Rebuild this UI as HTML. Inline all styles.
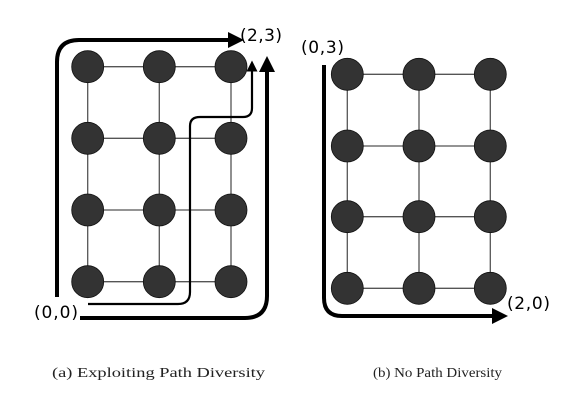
<!DOCTYPE html>
<html><head><meta charset="utf-8"><style>
html,body{margin:0;padding:0;background:#fff;}
svg{display:block;}
</style></head><body>
<svg width="574" height="401" viewBox="0 0 574 401">
<defs>
<marker id="ah" markerWidth="4" markerHeight="4" refX="2" refY="2" orient="auto" markerUnits="strokeWidth"><path d="M0,0 L4,2 L0,4 Z" fill="#000"/></marker>
<marker id="ah2" markerWidth="5" markerHeight="5" refX="2.5" refY="2.5" orient="auto" markerUnits="strokeWidth"><path d="M0,0 L5,2.5 L0,5 Z" fill="#000"/></marker>
</defs>
<g id="gridA"></g>
<g id="gridB"></g>
<g fill="none" stroke="#000">
<path d="M57,297 L57,62 Q57,40 79,40 L236,40" stroke-width="4" marker-end="url(#ah)"/>
<path d="M80,318 L245,318 Q267,318 267,296 L267,64" stroke-width="4" marker-end="url(#ah)"/>
<path d="M88,304 L178,304 Q190,304 190,292 L190,126 Q190,117 200,117 L243,117 Q252,117 252,108 L252,66" stroke-width="2.2" marker-end="url(#ah2)"/>
</g>
<path d="M324,65 L324,298 Q324,316 342,316 L500,316" fill="none" stroke="#000" stroke-width="4" marker-end="url(#ah)"/>
<g font-family="'DejaVu Sans','Liberation Sans',sans-serif" font-size="17" fill="#000">
<text x="240" y="41" textLength="42">(2,3)</text>
<text x="34" y="318" textLength="44">(0,0)</text>
<text x="301" y="53" textLength="43">(0,3)</text>
<text x="507" y="309" textLength="43">(2,0)</text>
</g>
<g font-family="'Liberation Serif',serif" font-size="14" fill="#222">
<text x="52" y="377" textLength="213" lengthAdjust="spacingAndGlyphs">(a) Exploiting Path Diversity</text>
<text x="373" y="377" textLength="129" lengthAdjust="spacingAndGlyphs">(b) No Path Diversity</text>
</g>
</svg>
<script>
const colsA=[87.7,159.3,231], rowsA=[66.7,138.3,210,281.7];
const colsB=[347.3,419,490.3], rowsB=[74.3,146,216.7,288.3];
const NS='http://www.w3.org/2000/svg';
function grid(id,cols,rows){
  const g=document.getElementById(id);
  for(let r=0;r<rows.length;r++){
    const l=document.createElementNS(NS,'line');
    l.setAttribute('x1',cols[0]);l.setAttribute('x2',cols[cols.length-1]);
    l.setAttribute('y1',rows[r]);l.setAttribute('y2',rows[r]);
    l.setAttribute('stroke','#555');l.setAttribute('stroke-width','1.3');
    
    
    g.appendChild(l);
  }
  for(let c=0;c<cols.length;c++){
    const l=document.createElementNS(NS,'line');
    l.setAttribute('x1',cols[c]);l.setAttribute('x2',cols[c]);
    l.setAttribute('y1',rows[0]);l.setAttribute('y2',rows[rows.length-1]);
    l.setAttribute('stroke','#555');l.setAttribute('stroke-width','1.3');
    
    
    g.appendChild(l);
  }
  for(const y of rows)for(const x of cols){
    const c=document.createElementNS(NS,'circle');
    c.setAttribute('cx',x);c.setAttribute('cy',y);c.setAttribute('r','16');
    c.setAttribute('fill','#333');c.setAttribute('stroke','#111');c.setAttribute('stroke-width','0.8');
    
    
    g.appendChild(c);
  }
}
grid('gridA',colsA,rowsA);
grid('gridB',colsB,rowsB);
</script>
</body></html>
